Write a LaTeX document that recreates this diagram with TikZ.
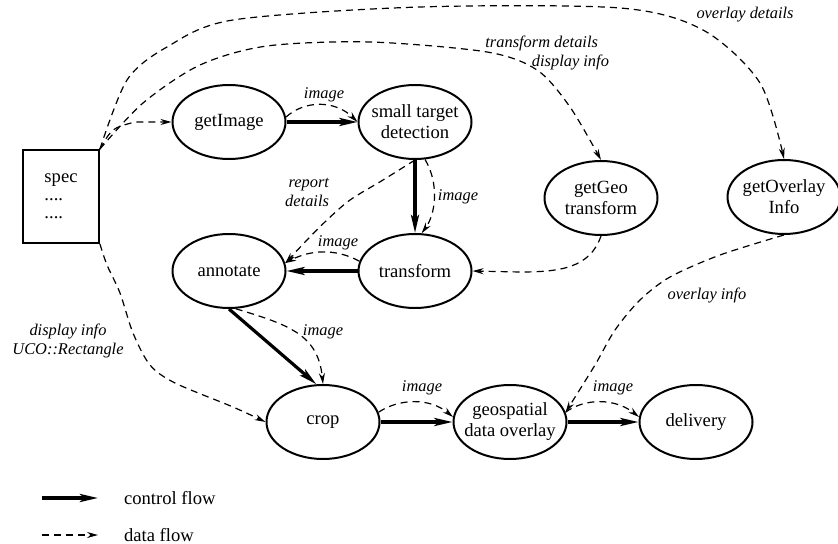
\documentclass[tikz,border=0pt]{standalone}
\usepackage{fontspec}
\setmainfont{Liberation Serif}
\usetikzlibrary{arrows.meta, shapes.geometric}

\begin{document}
\begin{tikzpicture}[x=0.5pt, y=-0.5pt,
  font=\fontsize{9.3}{10.5}\selectfont,
  proc/.style={draw, ellipse, line width=1pt, minimum width=56.5pt,
    minimum height=37pt, inner sep=0pt, label={[align=center]center:#1}},
  ctrlflow/.style={line width=1.6pt, -{Stealth[length=9pt, width=4pt, inset=2pt]}},
  dataflow/.style={line width=0.6pt, dash pattern=on 3.5pt off 2.5pt,
    -{Stealth[length=5.5pt, width=3pt]}},
  lbl/.style={font=\fontsize{8.2}{9.5}\selectfont\itshape}]
  \useasboundingbox (0,0) rectangle (838,544);

  % processes
  \node[draw, line width=0.9pt, minimum width=38pt, minimum height=46.5pt,
    align=left, font=\fontsize{9.3}{9}\selectfont] (spec) at (61,196.5)
    {spec\\....\\....};
  \node[proc={getImage}] (getImage) at (229,122) {};
  \node[proc={small target\\detection}] (small) at (415,122) {};
  \node[proc={getGeo\\transform}] (getGeo) at (601,198) {};
  \node[proc={getOverlay\\Info}] (getOverlay) at (784,197) {};
  \node[proc={annotate}] (annotate) at (229,271) {};
  \node[proc={transform}] (transform) at (415,271) {};
  \node[proc={crop}] (crop) at (323,422) {};
  \node[proc={geospatial\\data overlay}] (geo) at (510,422) {};
  \node[proc={delivery}] (delivery) at (696,422) {};

  % control flow
  \draw[ctrlflow] (getImage.east) -- (small.west);
  \draw[ctrlflow] (small.south) -- (transform.north);
  \draw[ctrlflow] (transform.west) -- (annotate.east);
  \draw[ctrlflow] (annotate.south) -- (crop.100);
  \draw[ctrlflow] (crop.east) -- (geo.west);
  \draw[ctrlflow] (geo.east) -- (delivery.west);

  % data flow
  \draw[dataflow] (spec.north east) .. controls (112,128) .. (135,122) -- (getImage.west);
  \draw[dataflow] plot[smooth] coordinates {(spec.north east) (127,80) (167,47)
    (233,20) (420,7) (620,8) (703,30) (760,83) (getOverlay.north)};
  \draw[dataflow] plot[smooth] coordinates {(spec.north east) (143,103) (200,65)
    (267,46) (370,42) (487,52) (537,70) (570,107) (getGeo.north)};
  \draw[dataflow] plot[smooth] coordinates {(spec.south east) (107,265) (120,293)
    (133,333) (150,365) (175,383) (233,407) (crop.west)};
  \draw[dataflow] (getImage.5) .. controls (305,100) and (335,100) .. (small.west);
  \draw[dataflow] plot[smooth] coordinates {(small.south) (383,180) (350,200)
    (327,220) (307,240) (annotate.8)};
  \draw[dataflow] (small.-75) .. controls (440,185) and (435,215) .. (transform.80);
  \draw[dataflow] (transform.170) .. controls (335,248) and (310,250) .. (annotate.8);
  \draw[dataflow] (getGeo.south) .. controls (590,268) and (560,272) .. (520,272)
    -- (transform.east);
  \draw[dataflow] plot[smooth] coordinates {(getOverlay.south) (720,255) (670,277)
    (640,300) (615,330) (595,365) (geo.10)};
  \draw[dataflow] (annotate.-80) .. controls (290,325) and (318,335) .. (crop.north);
  \draw[dataflow] (crop.10) .. controls (400,398) and (430,398) .. (geo.175);
  \draw[dataflow] (geo.10) .. controls (585,398) and (615,398) .. (delivery.175);

  % labels
  \node[lbl] (lblImgA) at (324,95) {image};
  \node[lbl, align=right, anchor=east] (lblReport) at (336,192) {report\\details};
  \node[lbl] (lblImgB) at (338,243) {image};
  \node[lbl] (lblImgC) at (458,197) {image};
  \node[lbl, align=right, anchor=east] (lblTrans) at (616,53)
    {transform details\hspace*{5.5pt}\\display info};
  \node[lbl] (lblOvDet) at (745,15) {overlay details};
  \node[lbl] (lblOvInfo) at (707,295) {overlay info};
  \node[lbl] (lblImgD) at (323,332) {image};
  \node[lbl, align=center] (lblDisp) at (68,341) {display info\\UCO::Rectangle};
  \node[lbl] (lblImgE) at (422,388) {image};
  \node[lbl] (lblImgF) at (613,388) {image};

  % legend
  \coordinate (cfA) at (42,498);
  \coordinate (cfB) at (98,498);
  \draw[ctrlflow] (cfA) -- (cfB);
  \node[anchor=west] (cfText) at (117,498) {control flow};
  \coordinate (dfA) at (42,535);
  \coordinate (dfB) at (98,535);
  \draw[dataflow] (dfA) -- (dfB);
  \node[anchor=west] (dfText) at (117,535) {data flow};
\end{tikzpicture}
\end{document}
